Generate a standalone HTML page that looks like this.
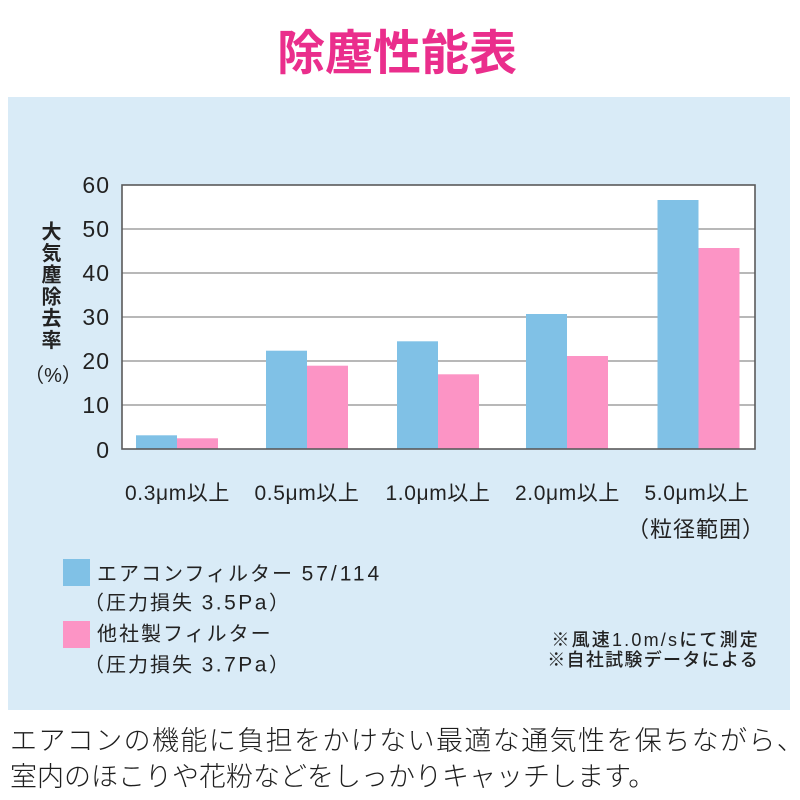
<!DOCTYPE html>
<html lang="ja">
<head>
<meta charset="utf-8">
<style>
  html,body{margin:0;padding:0;background:#ffffff;}
  body{width:800px;height:800px;overflow:hidden;}
  svg{display:block;}
  .jp{font-family:"Liberation Sans","Noto Sans CJK JP",sans-serif;}
</style>
</head>
<body>
<svg width="800" height="800" viewBox="0 0 800 800" xmlns="http://www.w3.org/2000/svg">
  <!-- title -->
  <text x="397" y="69.5" text-anchor="middle" class="jp" font-size="48" font-weight="700" fill="#ea2e8c">除塵性能表</text>

  <!-- panel -->
  <rect x="8" y="97" width="782" height="613" fill="#d9ebf7"/>

  <!-- plot area -->
  <rect x="122" y="185" width="633" height="264" fill="#ffffff"/>
  <g stroke="#a0a0a0" stroke-width="1.5">
    <line x1="122" y1="229" x2="755" y2="229"/>
    <line x1="122" y1="273" x2="755" y2="273"/>
    <line x1="122" y1="317" x2="755" y2="317"/>
    <line x1="122" y1="361" x2="755" y2="361"/>
    <line x1="122" y1="405" x2="755" y2="405"/>
  </g>

  <!-- bars -->
  <g fill="#80c1e6">
    <rect x="136" y="435.3" width="41" height="13.7"/>
    <rect x="266" y="350.7" width="41" height="98.3"/>
    <rect x="397" y="341.3" width="41" height="107.7"/>
    <rect x="526" y="314" width="41" height="135"/>
    <rect x="657.5" y="200" width="41" height="249"/>
  </g>
  <g fill="#fc94c5">
    <rect x="177" y="438.3" width="41" height="10.7"/>
    <rect x="307" y="365.7" width="41" height="83.3"/>
    <rect x="438" y="374.3" width="41" height="74.7"/>
    <rect x="567" y="356" width="41" height="93"/>
    <rect x="698.5" y="248" width="41" height="201"/>
  </g>

  <rect x="122" y="185" width="633" height="264" fill="none" stroke="#5a5a5a" stroke-width="1.6"/>

  <!-- y tick labels -->
  <g class="jp" font-size="23" fill="#222" text-anchor="end" letter-spacing="1">
    <text x="110" y="193">60</text>
    <text x="110" y="237">50</text>
    <text x="110" y="281">40</text>
    <text x="110" y="325">30</text>
    <text x="110" y="369">20</text>
    <text x="110" y="413">10</text>
    <text x="110" y="458">0</text>
  </g>

  <!-- y axis title -->
  <g class="jp" font-size="20" font-weight="700" fill="#222" text-anchor="middle">
    <text x="51.5" y="238.3">大</text>
    <text x="51.5" y="260">気</text>
    <text x="51.5" y="281.7">塵</text>
    <text x="51.5" y="303.4">除</text>
    <text x="51.5" y="325.1">去</text>
    <text x="51.5" y="346.8">率</text>
  </g>
  <text x="53" y="382" text-anchor="middle" class="jp" font-size="20" fill="#222">（%）</text>

  <!-- x labels -->
  <g class="jp" font-size="21" fill="#222" text-anchor="middle" letter-spacing="0.6">
    <text x="177.5" y="500">0.3μm以上</text>
    <text x="307" y="500">0.5μm以上</text>
    <text x="438" y="500">1.0μm以上</text>
    <text x="567.5" y="500">2.0μm以上</text>
    <text x="697" y="500">5.0μm以上</text>
  </g>
  <text x="696" y="537" text-anchor="middle" class="jp" font-size="22" fill="#222" letter-spacing="1">（粒径範囲）</text>

  <!-- legend -->
  <rect x="63" y="559" width="27" height="27" fill="#80c1e6"/>
  <rect x="63" y="621" width="27" height="27" fill="#fc94c5"/>
  <g class="jp" font-size="20" fill="#222" letter-spacing="2">
    <text x="97" y="580.5">エアコンフィルター <tspan font-size="21" letter-spacing="3">57/114</tspan></text>
    <text x="84" y="609.5">（圧力損失 <tspan font-size="21" letter-spacing="2.5">3.5Pa</tspan>）</text>
    <text x="97" y="640.5">他社製フィルター</text>
    <text x="84" y="671.5">（圧力損失 <tspan font-size="21" letter-spacing="2.5">3.7Pa</tspan>）</text>
  </g>

  <!-- notes -->
  <g class="jp" font-size="18" font-weight="500" fill="#222" text-anchor="end">
    <text x="760" y="646" letter-spacing="2.2">※風速1.0m/sにて測定</text>
    <text x="759" y="666" letter-spacing="1.3">※自社試験データによる</text>
  </g>

  <!-- bottom caption -->
  <g class="jp" font-size="27" font-weight="300" fill="#1e1e1e">
    <text x="10" y="750" letter-spacing="1.4">エアコンの機能に負担をかけない最適な通気性を保ちながら、</text>
    <text x="10" y="786" letter-spacing="0">室内のほこりや花粉などをしっかりキャッチします。</text>
  </g>
</svg>
</body>
</html>
